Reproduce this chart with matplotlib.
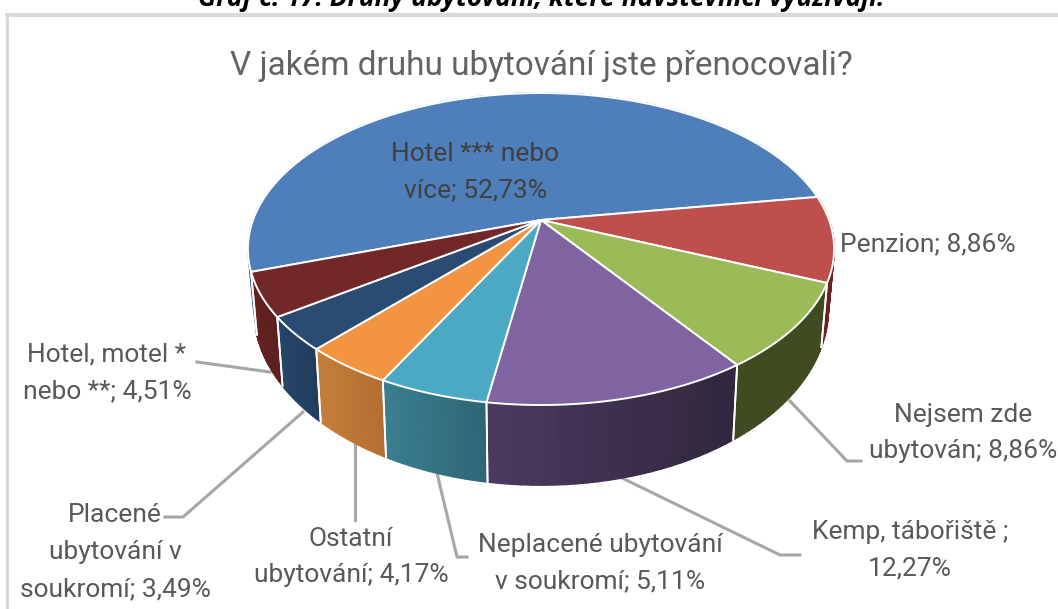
import numpy as np
import matplotlib
matplotlib.use("Agg")
import matplotlib.pyplot as plt
from matplotlib.collections import PolyCollection
from matplotlib.colors import to_rgb

plt.rcParams['font.family'] = ['Roboto', 'Open Sans', 'DejaVu Sans']

# values in percent, clockwise from the first slice
categories = ["Hotel *** nebo\nvíce", "Penzion", "Nejsem zde\nubytován", "Kemp, tábořiště ",
              "Neplacené ubytování\nv soukromí", "Ostatní\nubytování", "Placené\nubytování v\nsoukromí",
              "Hotel, motel *\nnebo **"]
values = [52.73, 8.86, 8.86, 12.27, 5.11, 4.17, 3.49, 4.51]
top_colors = ["#4F7FBB", "#BE4F4C", "#9BBB59", "#8064A2", "#4BA9C3", "#F39443", "#2A4B72", "#722828"]
wall_left = ["#3A5F8C", "#6E1F22", "#3F4B20", "#4C3A62", "#3A7F90", "#C67F39", "#254669", "#642121"]
wall_right = ["#3A5F8C", "#6E1F22", "#3F4B20", "#31273E", "#2F6676", "#B36E33", "#213D5C", "#5C1F1F"]

# label centres in pixels, and how the label breaks around the value
label_pos = [(475, 172), (928, 244), (963, 433), (910, 550), (600, 563), (351, 557), (115, 552), (107, 373)]
label_sep = [";\u00a0", ";\u00a0", ";\u00a0", ";\n", ";\u00a0", ";\u00a0", ";\u00a0", ";\u00a0"]

leaders = [
    ([197, 270], [362, 372]),
    ([165, 183, 303], [517, 517, 412]),
    ([355, 355], [443, 520]),
    ([437, 457, 467], [473, 557, 557]),
    ([620, 780, 800], [477, 555, 555]),
    ([790, 847, 861], [401, 461, 461]),
]

start_angle = 198.9
cx, cy = 541, 220
rx, ry, k = 288, 150.6, 0.186


def top_point(t):
    x, y = np.cos(t), np.sin(t)
    w = 1 + k * y
    return cx + rx * x / w, cy - ry * y / w


def bottom_point(t):
    sx, sy = top_point(t)
    return cx + 0.98 * (sx - cx), 276 + 1.13 * (sy - cy)


fig = plt.figure(figsize=(10.58, 6.09), dpi=100)
ax = fig.add_axes([0, 0, 1, 1])
ax.set_xlim(0, 1058)
ax.set_ylim(609, 0)
ax.axis("off")

# chart frame
ax.plot([6.5, 6.5], [609, 14.5], color="#D9D9D9", lw=2.2, solid_capstyle="butt")
ax.plot([5, 1058], [14.5, 14.5], color="#DADADA", lw=3, solid_capstyle="butt")

ax.text(541, -2, "Graf č. 17: Druhy ubytování, které návštěvníci využívají.", ha="center", va="center",
        family="Open Sans", fontsize=19, fontweight="bold", fontstyle="italic", color="black")
ax.text(541, 66, "V jakém druhu ubytování jste přenocovali?", ha="center", va="center",
        fontsize=24, color="#636363")

for xs, ys in leaders:
    ax.plot(xs, ys, color="#A6A6A6", lw=2.2, solid_joinstyle="miter", zorder=1)

# slice edges in radians, going clockwise
shares = np.array(values) / sum(values)
edges = np.radians(start_angle) - 2 * np.pi * np.concatenate([[0], np.cumsum(shares)])

# outer walls, far ones first
order = sorted(range(len(values)), key=lambda i: np.sin((edges[i] + edges[i + 1]) / 2), reverse=True)
for i in order:
    ts = np.linspace(edges[i], edges[i + 1], 25)
    xt, yt = top_point(ts)
    xb, yb = bottom_point(ts)
    quads = [[(xt[j], yt[j]), (xt[j + 1], yt[j + 1]), (xb[j + 1], yb[j + 1]), (xb[j], yb[j])] for j in range(24)]
    c0, c1 = np.array(to_rgb(wall_left[i])), np.array(to_rgb(wall_right[i]))
    # the shade runs from left to right on screen
    mix = (xt[:-1] - xt.min()) / max(xt.max() - xt.min(), 1)
    cols = [c0 + (c1 - c0) * m for m in mix]
    ax.add_collection(PolyCollection(quads, facecolors=cols, edgecolors=cols, linewidths=1.2, zorder=2))
    for t in (edges[i], edges[i + 1]):
        xa, ya = top_point(t)
        xc, yc = bottom_point(t)
        if np.sin(t) < -0.1:
            ax.plot([xa, xc], [ya, yc], color="white", lw=1.3, zorder=3)

# top faces
for i in range(len(values)):
    ts = np.linspace(edges[i], edges[i + 1], 120)
    xt, yt = top_point(ts)
    ax.fill(np.r_[cx, xt], np.r_[cy, yt], facecolor=top_colors[i], edgecolor="white", lw=1.4,
            joinstyle="round", zorder=4)

for i, name in enumerate(categories):
    pct = f"{values[i]:.2f}".replace(".", ",")
    color = "#404040" if i == 0 else "#595959"
    ax.text(label_pos[i][0], label_pos[i][1], f"{name}{label_sep[i]}{pct}%", ha="center", va="center",
            multialignment="center", fontsize=19, linespacing=1.68, color=color, zorder=5)

fig.savefig("out.png", dpi=100)
